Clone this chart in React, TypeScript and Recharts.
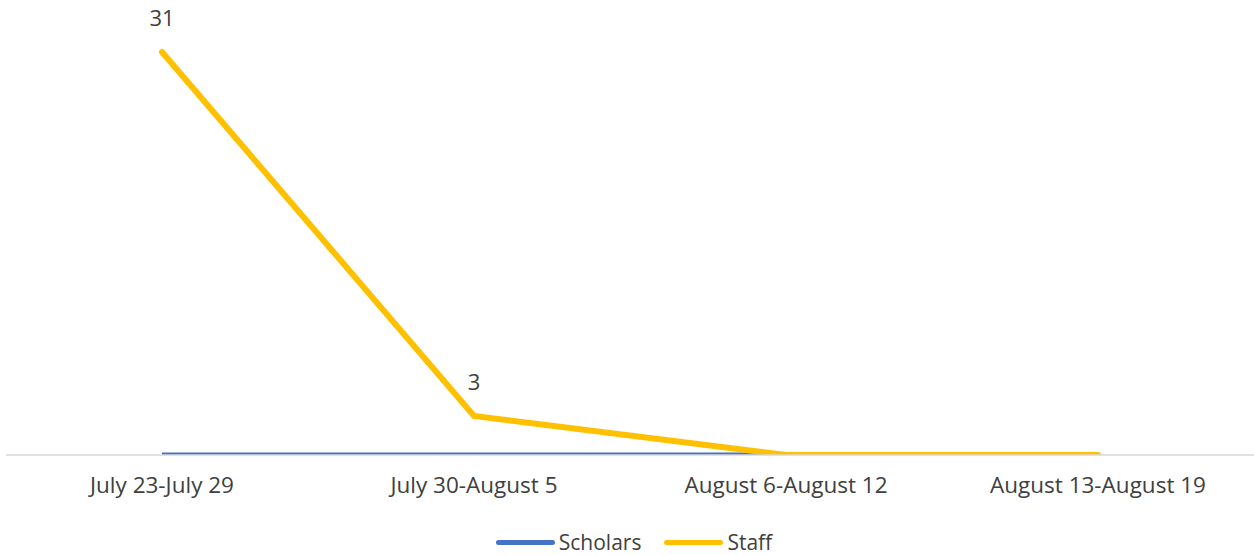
import React from "react";
import { LineChart, Line, XAxis, YAxis, LabelList } from "recharts";

const weeks = [
  "July 23-July 29",
  "July 30-August 5",
  "August 6-August 12",
  "August 13-August 19",
];
const scholars = [0, 0, 0, 0];
const staff = [31, 3, 0, 0];

const data = weeks.map((week, i) => ({
  week,
  Scholars: scholars[i],
  Staff: staff[i],
}));

const FONT = "'Open Sans', 'Noto Sans', sans-serif";
const TEXT = "#404040";

const legendItems = [
  { name: "Scholars", color: "#4472C4" },
  { name: "Staff", color: "#FFC000" },
];

function StaffLabel(props: any) {
  const { x, y, value } = props;
  if (!value) return null;
  return (
    <text
      x={x}
      y={y - 35}
      textAnchor="middle"
      dominantBaseline="central"
      fontSize={22}
      fontFamily={FONT}
      fill={TEXT}
    >
      {value}
    </text>
  );
}

function ChartLegend() {
  return (
    <div
      style={{
        position: "absolute",
        left: 0,
        top: 529,
        width: 1254,
        height: 26,
        display: "flex",
        justifyContent: "center",
        alignItems: "center",
        gap: 23,
        fontFamily: FONT,
        fontSize: 21,
        lineHeight: "24px",
        color: TEXT,
        paddingLeft: 14,
        boxSizing: "border-box",
      }}
    >
      {legendItems.map((item) => (
        <div key={item.name} style={{ display: "flex", alignItems: "center" }}>
          <span
            style={{
              display: "inline-block",
              width: 59,
              height: 5,
              borderRadius: 3,
              background: item.color,
              marginRight: 4,
            }}
          />
          <span>{item.name}</span>
        </div>
      ))}
    </div>
  );
}

export default function App() {
  return (
    <div
      style={{
        position: "absolute",
        left: 0,
        top: 0,
        width: 1254,
        height: 555,
        background: "#fff",
        overflow: "hidden",
      }}
    >
      <LineChart
        width={1254}
        height={555}
        data={data}
        margin={{ top: 0, right: 0, left: 6, bottom: 0 }}
      >
        <XAxis
          dataKey="week"
          padding={{ left: 156, right: 156 }}
          axisLine={{ stroke: "#d9d9d9", strokeWidth: 1.5 }}
          tickLine={false}
          interval={0}
          height={100}
          tick={{ fontSize: 22.5, fontFamily: FONT, fill: TEXT, dy: 14 }}
        />
        <YAxis hide domain={[0, 35]} allowDataOverflow />
        <Line
          dataKey="Scholars"
          stroke="#4472C4"
          strokeWidth={5}
          dot={false}
          isAnimationActive={false}
        />
        <Line
          dataKey="Staff"
          stroke="#FFC000"
          strokeWidth={6}
          strokeLinecap="round"
          dot={false}
          isAnimationActive={false}
        >
          <LabelList dataKey="Staff" content={<StaffLabel />} />
        </Line>
      </LineChart>
      <ChartLegend />
    </div>
  );
}
